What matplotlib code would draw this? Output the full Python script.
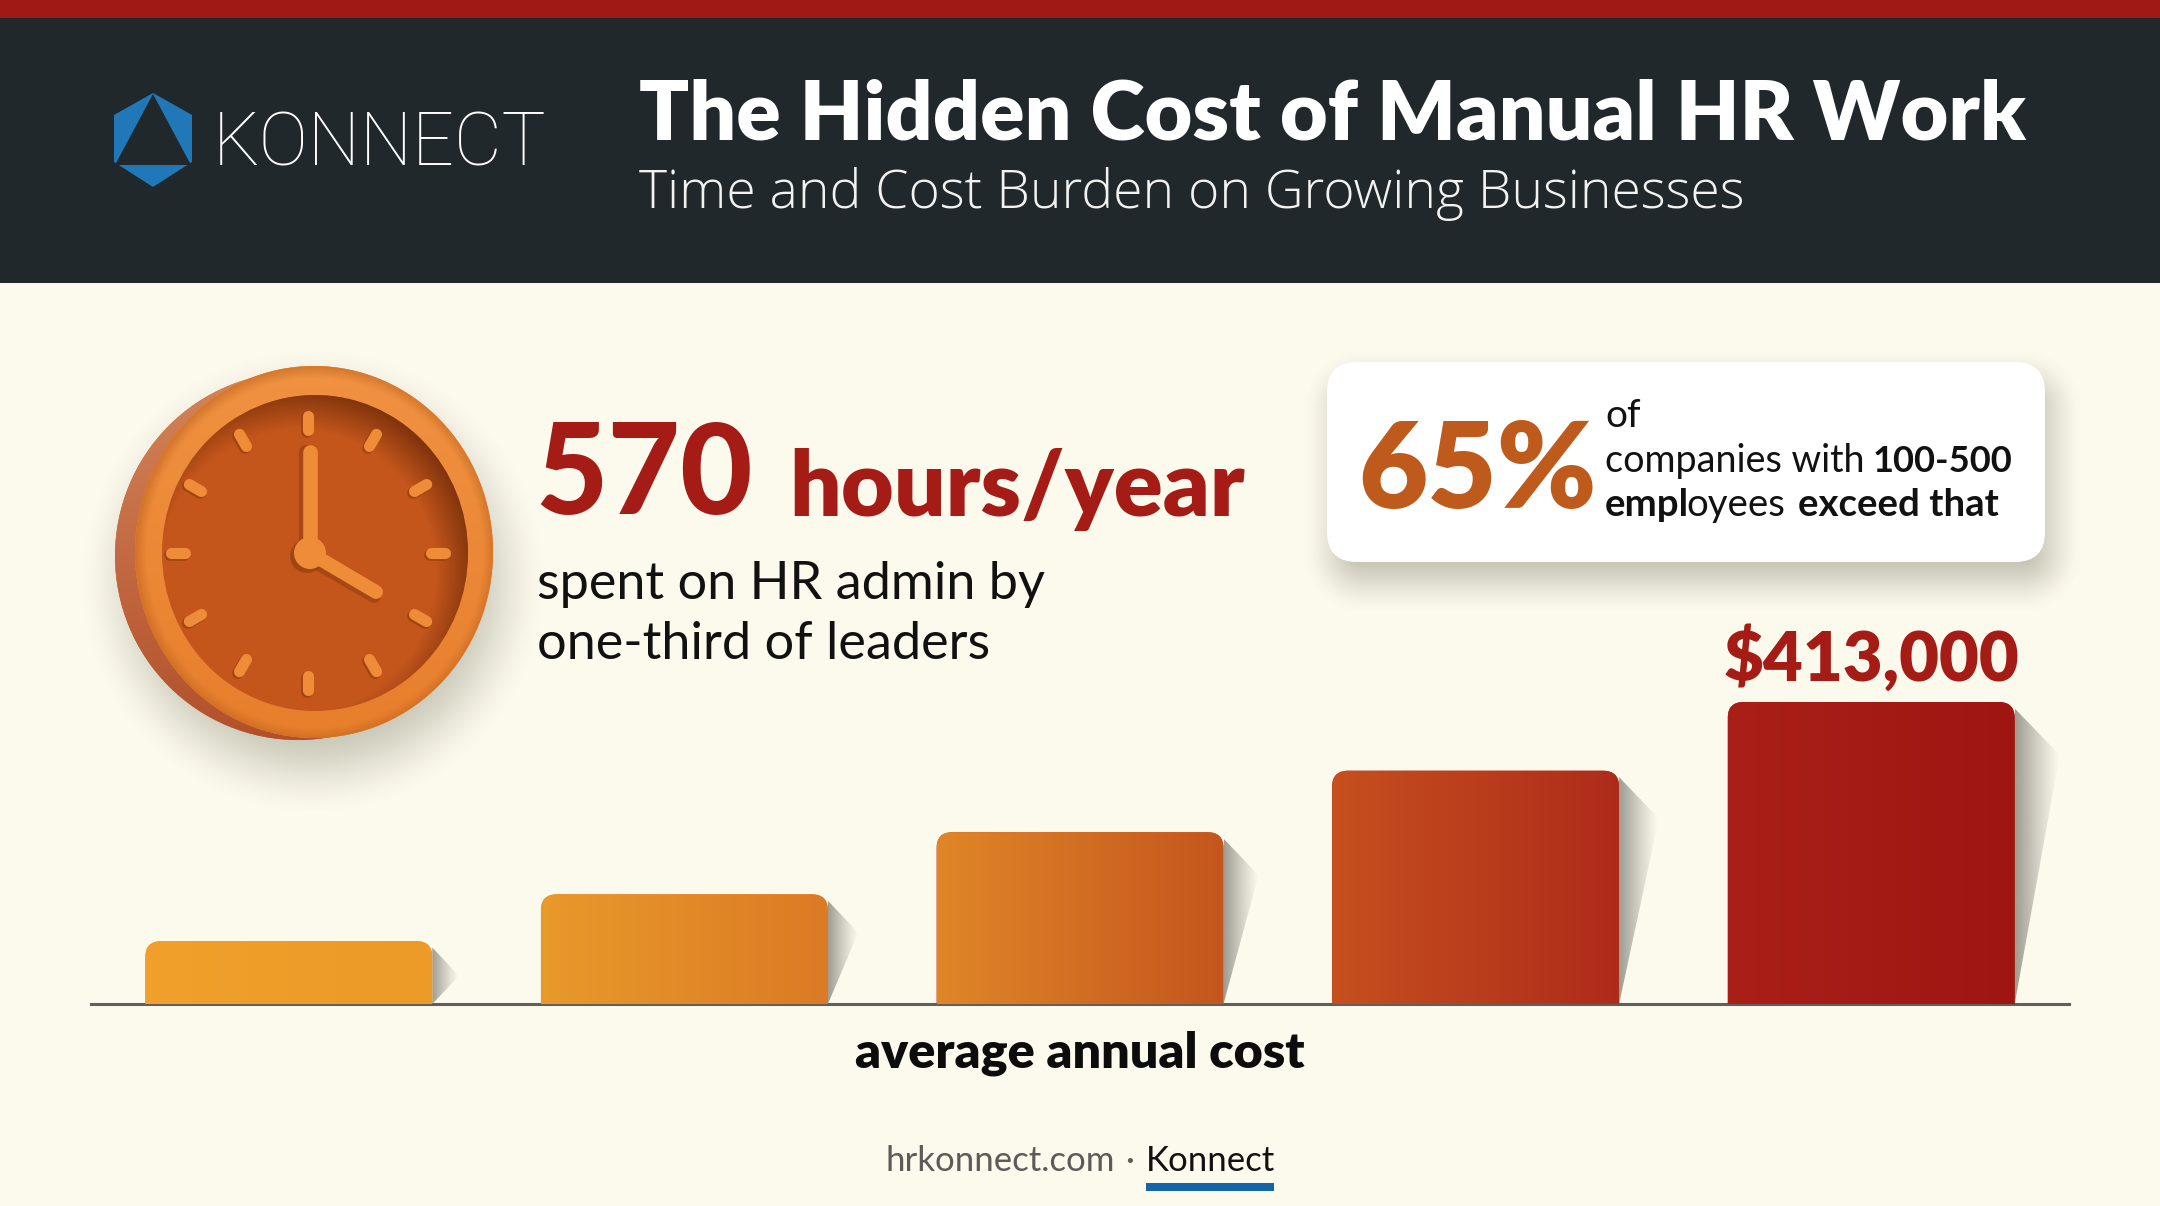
import numpy as np
import matplotlib
matplotlib.use('Agg')
import matplotlib.pyplot as plt
from matplotlib.colors import to_rgb, LinearSegmentedColormap
from matplotlib.patches import Ellipse, FancyBboxPatch, PathPatch, Polygon, Rectangle
from matplotlib.path import Path

plt.rcParams['font.family'] = ['Lato', 'DejaVu Sans']

# bar values, only the last one is printed on the picture, rest read from heights
bar_values = [86000, 150000, 235000, 319000, 413000]
bar_positions = [0, 1, 2, 3, 4]
bar_label = '$413,000'
left_colors = ['#F0A02B', '#E89A2A', '#E08628', '#C6501E', '#AA2018']
right_colors = ['#EC9A28', '#DC7A25', '#C4561D', '#AE2B1A', '#9E1512']

BG = '#FCF9ED'
DARK = '#21282C'
RED = '#A51B15'
ORANGE = '#EE8A36'

fig = plt.figure(figsize=(21.6, 12.06), dpi=100, facecolor=BG)

# pixel axes for the layout, y goes down
ax = fig.add_axes([0, 0, 1, 1])
ax.set_xlim(0, 2160)
ax.set_ylim(1206, 0)
ax.set_autoscale_on(False)
ax.axis('off')


def soft_shape(x0, x1, y0, y1, dist, color, alpha, blur, zorder):
    # soft shadow from a signed distance function
    xs = np.arange(x0, x1, 2.0)
    ys = np.arange(y0, y1, 2.0)
    X, Y = np.meshgrid(xs, ys)
    t = np.clip(0.5 - dist(X, Y) / (2 * blur), 0, 1)
    t = t * t * (3 - 2 * t)
    img = np.zeros(X.shape + (4,))
    img[..., :3] = to_rgb(color)
    img[..., 3] = t * alpha
    ax.imshow(img, extent=(x0, x1, y1, y0), aspect='auto', zorder=zorder, interpolation='bilinear')


def gradient(patch, x0, x1, y0, y1, c0, c1, vertical=False, zorder=3, axes=None):
    axes = axes or ax
    cmap = LinearSegmentedColormap.from_list('g', [c0, c1])
    g = np.linspace(0, 1, 256)
    g = g[:, None] if vertical else g[None, :]
    im = axes.imshow(g, cmap=cmap, extent=(x0, x1, y1, y0), aspect='auto', zorder=zorder, vmin=0, vmax=1)
    im.set_clip_path(patch)


# header
ax.add_patch(Rectangle((0, 0), 2160, 283, fc=DARK, ec='none', zorder=1))
ax.add_patch(Rectangle((0, 0), 2160, 18, fc='#A01A15', ec='none', zorder=2))

# logo
hexagon = [(153, 93), (192, 115), (192, 162), (153, 187), (114, 162), (114, 115)]
inner = [(153, 94), (191, 165), (115, 165)]
ax.add_patch(Polygon(hexagon, fc='#2178B8', ec='none', zorder=2))
ax.add_patch(Polygon(inner, fc=DARK, ec='none', zorder=3))
ax.text(213, 166, 'KONNECT', color='white', fontsize=53, family='Roboto', weight='light', va='baseline', zorder=3)

ax.text(639, 140, 'The Hidden Cost of Manual HR Work', color='white', fontsize=59.3, weight='heavy', va='baseline', zorder=3)
ax.text(639, 208, 'Time and Cost Burden on Growing Businesses', color='#F2F2F0', fontsize=38.5, family='Open Sans', weight='light', va='baseline', zorder=3)


# clock
def clock_shadow(X, Y):
    return np.hypot(X - 312, Y - 580) - 186


soft_shape(50, 590, 330, 850, clock_shadow, '#77775F', 0.42, 50, 2)

back = Ellipse((298, 556), 366, 368, fc='#C46A3A', ec='none', zorder=3)
ax.add_patch(back)
gradient(back, 115, 481, 372, 740, '#D4845A', '#B2502A', vertical=True, zorder=3)

rim = Ellipse((314, 552), 358, 372, fc=ORANGE, ec='none', zorder=4)
ax.add_patch(rim)
gradient(rim, 135, 493, 366, 738, '#F09242', '#E77F2C', vertical=True, zorder=4)
# darker on the outer edge of the rim
X, Y = np.meshgrid(np.arange(134, 494, 2.0), np.arange(364, 740, 2.0))
d = np.hypot((X - 314) / 179, (Y - 552) / 186)
edge = np.zeros(X.shape + (4,))
edge[..., :3] = to_rgb('#B85A18')
edge[..., 3] = np.clip((d - 0.94) / 0.06, 0, 1) * 0.45
im = ax.imshow(edge, extent=(134, 494, 740, 364), aspect='auto', zorder=4, interpolation='bilinear')
im.set_clip_path(rim)

face = Ellipse((315, 553), 306, 316, fc='#C4561C', ec='none', zorder=5)
ax.add_patch(face)
X, Y = np.meshgrid(np.arange(160, 470, 2.0), np.arange(394, 712, 2.0))
d = np.hypot((X - 297) / 153, (Y - 571) / 158)
shade = np.zeros(X.shape + (4,))
shade[..., :3] = to_rgb('#6E2A08')
shade[..., 3] = np.clip((d - 0.9) / 0.26, 0, 1) * 0.8
im = ax.imshow(shade, extent=(160, 470, 712, 394), aspect='auto', zorder=5, interpolation='bilinear')
im.set_clip_path(face)

clock_x, clock_y = 308, 553
for k in range(12):
    a = np.radians(30 * k)
    xa = clock_x + 123 * np.sin(a)
    xb = clock_x + 137 * np.sin(a)
    ya = clock_y - 123 * np.cos(a)
    yb = clock_y - 137 * np.cos(a)
    ax.plot([xa - 1.5, xb - 1.5], [ya + 1.5, yb + 1.5], color='#8E3B0E', lw=8.5, alpha=0.6, solid_capstyle='round', zorder=6)
    ax.plot([xa, xb], [ya, yb], color='#EF8C38', lw=8, solid_capstyle='round', zorder=7)

hub_x, hub_y = 310, 553
ax.plot([hub_x - 4, hub_x - 4], [hub_y + 3, 452], color='#8E3B0E', lw=11, alpha=0.55, solid_capstyle='round', zorder=6)
ax.plot([hub_x - 3, 374], [hub_y + 4, 596], color='#8E3B0E', lw=10, alpha=0.55, solid_capstyle='round', zorder=6)
ax.plot([hub_x, hub_x], [hub_y, 452], color='#EF8C38', lw=10.5, solid_capstyle='round', zorder=7)
ax.plot([hub_x, 376], [hub_y, 592], color='#EF8C38', lw=10, solid_capstyle='round', zorder=7)
ax.add_patch(Ellipse((hub_x - 3, hub_y + 3), 34, 34, fc='#8E3B0E', ec='none', alpha=0.6, zorder=6))
ax.add_patch(Ellipse((hub_x, hub_y), 32, 32, fc='#EF8C38', ec='none', zorder=7))

# big stat
ax.text(535, 514, '570', color=RED, fontsize=90, weight='black', va='baseline', zorder=3)
ax.text(789, 516, 'hours/year', color=RED, fontsize=65.5, weight='heavy', va='baseline', zorder=3)
ax.text(537, 599, 'spent on HR admin by', color='#111111', fontsize=37.6, va='baseline', zorder=3)
ax.text(537, 659, 'one-third of leaders', color='#111111', fontsize=37.6, va='baseline', zorder=3)


# card
def card_shadow(X, Y):
    cx, cy, hw, hh, r = 1692, 480, 358, 100, 28
    qx = np.abs(X - cx) - (hw - r)
    qy = np.abs(Y - cy) - (hh - r)
    return np.hypot(np.maximum(qx, 0), np.maximum(qy, 0)) + np.minimum(np.maximum(qx, qy), 0) - r


soft_shape(1270, 2120, 320, 640, card_shadow, '#77775F', 0.45, 34, 2)
ax.add_patch(FancyBboxPatch((1327, 362), 718, 200, boxstyle='round,pad=0,rounding_size=30', fc='white', ec='none', zorder=3))

ax.text(1358, 508, '65%', color='#BE5A1B', fontsize=86, weight='heavy', va='baseline', zorder=4)
ax.text(1605, 427, 'of', color='#111111', fontsize=28, va='baseline', zorder=4)
ax.text(1605, 472, 'companies with', color='#111111', fontsize=27.2, va='baseline', zorder=4)
ax.text(1873, 472, '100-500', color='#111111', fontsize=26.2, weight='bold', va='baseline', zorder=4)
ax.text(1605, 516, 'empl', color='#111111', fontsize=27.6, weight='bold', va='baseline', zorder=4)
ax.text(1686, 516, 'oyees', color='#111111', fontsize=27.6, va='baseline', zorder=4)
ax.text(1798, 516, 'exceed that', color='#111111', fontsize=27.6, weight='bold', va='baseline', zorder=4)

# footer
ax.text(1080, 1068, 'average annual cost', color='#0C0C0C', fontsize=36.3, weight='heavy', ha='center', va='baseline', zorder=4)
ax.text(886, 1171, 'hrkonnect.com', color='#5B5B58', fontsize=25, va='baseline', zorder=4)
ax.text(1130, 1171, '\u00b7', color='#5B5B58', fontsize=25, ha='center', va='baseline', zorder=4)
ax.text(1146, 1171, 'Konnect', color='#111111', fontsize=25, va='baseline', zorder=4)
ax.add_patch(Rectangle((1146, 1183), 128, 8, fc='#1565A8', ec='none', zorder=4))

# bars, real scale: baseline at y=1004, 302 px for the top value
bar_h = 404.0
bx = fig.add_axes([91 / 2160, (1206 - 1004) / 1206, 1978 / 2160, bar_h / 1206])
bx.patch.set_alpha(0)
ymax = max(bar_values) * bar_h / 302.0
bx.set_xlim(-0.5, 4.5)
bx.set_ylim(0, ymax)
bx.set_autoscale_on(False)
for s in ['top', 'left', 'right']:
    bx.spines[s].set_visible(False)
bx.spines['bottom'].set_color('#5F5F5C')
bx.spines['bottom'].set_linewidth(2.2)
bx.set_xticks([])
bx.set_yticks([])

w = 287 / 395.6
px_x = 395.6
px_y = bar_h / ymax
for i, v in enumerate(bar_values):
    pos = bar_positions[i]
    x0 = pos - w / 2
    x1 = pos + w / 2
    rx = 16 / px_x
    ry = 16 / px_y
    verts = [(x0, 0), (x0, v - ry), (x0, v), (x0 + rx, v), (x1 - rx, v), (x1, v), (x1, v - ry), (x1, 0), (x0, 0)]
    codes = [Path.MOVETO, Path.LINETO, Path.CURVE3, Path.CURVE3, Path.LINETO, Path.CURVE3, Path.CURVE3, Path.LINETO, Path.CLOSEPOLY]
    patch = PathPatch(Path(verts, codes), fc=right_colors[i], ec='none', zorder=3)
    bx.add_patch(patch)
    gradient(patch, x0, x1, 0, v, left_colors[i], right_colors[i], zorder=3, axes=bx)

    # side shadow, tapers to the base and fades out
    tip_x = x1 + (22 + 23 * v / max(bar_values)) / px_x
    tip_y = v - (30 + 23 * v / max(bar_values)) / px_y
    shadow = Polygon([(x1, v - ry * 0.4), (tip_x, tip_y), (x1, 0)], fc='none', ec='none', zorder=2)
    bx.add_patch(shadow)
    alpha = 0.6 * (1 - np.linspace(0, 1, 64)) ** 1.2
    sh = np.zeros((1, 64, 4))
    sh[..., :3] = to_rgb('#5F5F55')
    sh[..., 3] = alpha
    im = bx.imshow(sh, extent=(x1, tip_x, 0, v), aspect='auto', zorder=2)
    im.set_clip_path(shadow)

bx.annotate(bar_label, xy=(bar_positions[-1], bar_values[-1]), xytext=(0, 15), textcoords='offset points',
            ha='center', va='baseline', color=RED, fontsize=49.6, weight='heavy')

fig.savefig('out.png', dpi=100, facecolor=BG)
